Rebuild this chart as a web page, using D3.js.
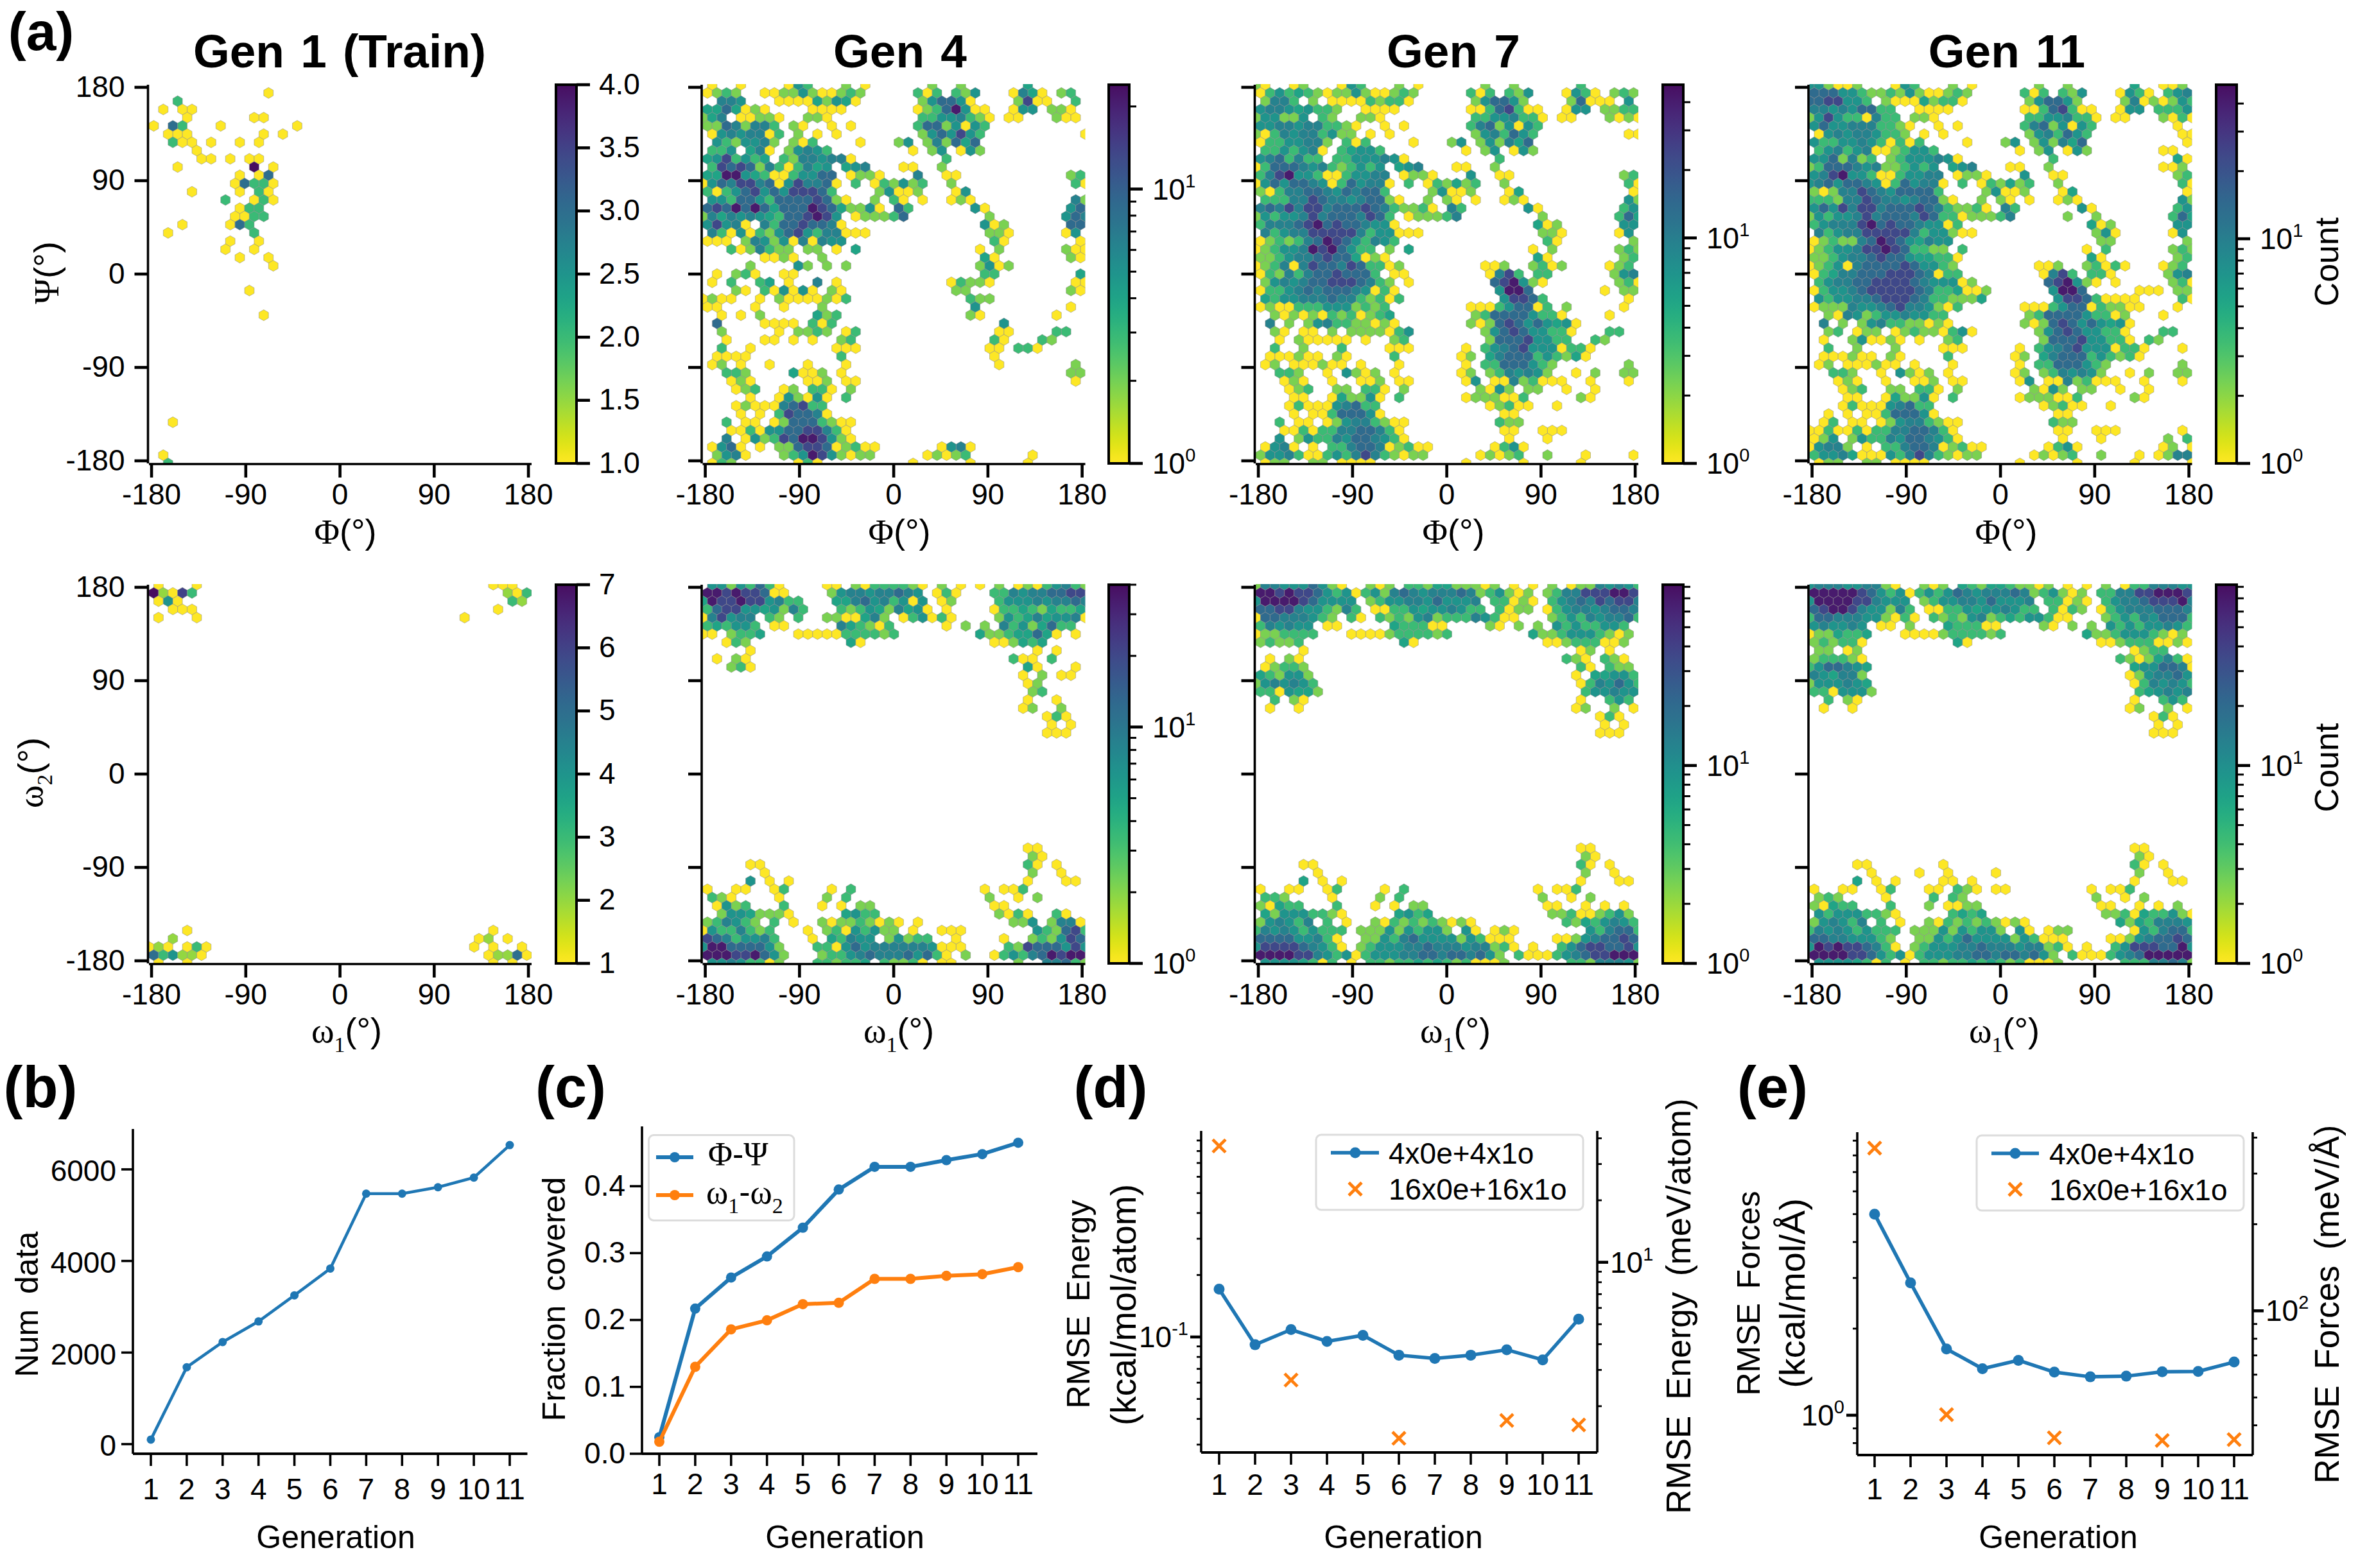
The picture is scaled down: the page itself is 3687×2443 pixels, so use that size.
<!DOCTYPE html>
<html><head><meta charset="utf-8">
<script src="https://cdn.jsdelivr.net/npm/d3@7"></script>
<style>
html,body{margin:0;padding:0;background:#fff}
svg{display:block}
text{font-family:"Liberation Sans",sans-serif;fill:#000}
.gk{font-family:"Liberation Serif",serif}
</style></head><body>
<svg id="chart" width="3687" height="2443"></svg>
<script>
// ---------- data: counts per hexagon, "column:levels" runs, one string per lattice row (top to bottom) ----------
const phiPsiGen1 = ["","12:1","3:2","1:1 3:11","4:1 11:11","0:1 2:32 7:1 15:1","2:111 12:1 14:1","2:211 6:1 9:1 11:1","5:1","5:11 8:1 10:11","3:1 11:4 13:1","9:1 11:13","9:13221","4:1 9:1 11:21","8:2 11:121","9:122","9:1122","3:1 8:132","2:1 11:2","8:1 11:1","8:1 11:1","9:1 12:1","13:1","","","10:1","","","12:1","","","","","","","","","","","","","2:1","","","","1:1","2:2"];
const phiPsiGen4 = [
"1:1 4:1 9:153 15:2 17:1 24:2 27:2 34:4",
"0:1232 6:11225211232 22:313 26:325 32:1641 37:23",
"2:665 8:111142541 23:257751 33:2811 39:3",
"0:4474121 11:1111 22:12379511 32:155 36:221",
"0:246.11221 11:221 23:33556321 32:11 37:211",
"0:22762663 9:21 13:1 15:1 22:37725153",
"1:15656613 10:2 12:1 14:1 23:2575853 40:1",
"1:5325562 9:213 16:1 20:25 23:262747",
"1:335.461 9:25653 22:1 24:25 27:152",
"0:4583534 8:32665661 25:3",
"1:3878726313645 15:456 21:11 25:2",
"0:44995431135577 15:1221 22:6 25:11 38:23",
"0:157688671586671 16:3 18:132523 26:2 39:31",
"0:31357857588873 18:25112 26:15",
"1:553775377778721 18:2 20:31 23:1 26:121 39:62",
"0:7879797477798742251.73 28:51 38:57",
"0:264656543778985.122237 30:2 38:576",
"0:58561.637787761 29:512 38:77",
"1:63151325785366111 30:221 38:15",
"0:111.26525161655 30:31 39:1",
"3:3126322.22.1.4 29:1 31:2 38:211",
"6:1121 12:2 29:41 38:21",
"5:2 10:52 13:2 15:2 29:2512",
"1:1 3:231 8:11 29:33 39:4",
"1:1 3:3 6:34 9:1 12:6 14:1 26:13221 39:11",
"3:21 6:315151.21 26:22 38:21",
"0:1211 6:1 8:21111213 28:322",
"0:11 5:1 8:1 12:2 28:5 38:1",
"2:1 4:1 6:2 12:423 28:21 37:1",
"1:7 6:1111 11:313 31:5",
"2:2 8:1 10:2232 15:13 31:11 37:33",
"2:1 6:11 9:1 11:1 14:23 30:31 35:32",
"2:3 5:1 14:111 30:11 33:331",
"1:1111 14:3 30:1",
"1:12.1 7:1 11:1 15:1 31:1 39:2",
"2:332 9:4112 14:1 38:22",
"3:121 11:112 15:11 39:1",
"3:123 8:12 11:331 15:2",
"5:1 8:152151 15:3",
"3:1211167833",
"4:1 6:1 8:387761",
"2:3 4:11 7:127773211",
"3:1131557788631",
"2:6 4:152387998521",
"1:1571 6:1 8:22788712311 25:1561",
"1:2561 8:2359852122 23:12123 34:1",
"1:132 10:131 22:1 28:1 34:1"];
const phiPsiGen7 = [
"0:21 4:12 9:153 15:2 17:1 24:2 27:2 34:3",
"0:13534321225211232 22:313 26:325 32:1531 37:232",
"1:2663.2.111132331 23:257752 33:27111 39:5",
"0:566545332..1111 22:11378311 32:155 36:2233",
"0:255225.32..221 23:33556331 32:11 37:2121",
"0:55665663321 13:1 15:1 22:36725153",
"0:21365663522.1.1 23:2563753 39:11",
"0:13355662.313 16:1 20:25 23:252647",
"1:3353561.34553 22:1 24:25 27:152",
"0:5673633.33555651 25:3",
"0:13777656323535.456 21:11 25:2",
"0:36895531135566 15:1221 22:5 25:11 38:23",
"0:157577651375661 16:3 18:132423 26:2 39:31",
"0:21366776576773 18:25112 26:14 39:1",
"1:333668766567721 18:2 20:21 23:1 26:121 39:52",
"0:6768688677787632231.63 28:51 38:35",
"0:253556867776873.122236 30:2 38:374",
"0:366678978776551 29:412 38:55",
"1:63566888886355111 30:221 38:15",
"0:123236798753653 30:31 39:2",
"0:1235569897533.2.4 29:1 31:2 38:232",
"0:22356678774121 29:41 38:23",
"0:1236168776873312 24:112 29:2312 37:123",
"0:1326367787773.11 24:1683 29:33 37:256",
"1:25656778887632 16:1 25:789521 38:231",
"0:133567677765131 25:5997 36:1 38:22",
"1:435566676632313 26:58873 39:1",
"0:12113335552323 22:111357713.2 38:1",
"2:2121213231234 23:2377775331 37:1",
"1:6.2 5:2563322121 22:212787575451",
"2:21 5:11.2.2222135 24:2578755331 37:33",
"2:1 4:211111 11:1 14:23 24:277785533 35:32",
"2:3 5:2 9:3 14:111 22:1 24:356785551331",
"1:111211.21 14:3 21:12 24:46777353241",
"1:12.111211 11:1 15:1 22:1 24:33777532 39:2",
"2:332 7:1 9:5212 14:1 21:12 24:2365652 33:1 35:2 38:22",
"3:121 8:1 11:112 15:11 22:15 25:11623111 35:1 39:1",
"3:123 8:22 11:331 15:2 23:2152.22 32:1 35:1",
"4:11 8:142251 15:3 22:1222113 34:21",
"3:1311156733 24:12311 31:1",
"4:1.11377751 26:11",
"2:3 4:11 7:125663211 25:322",
"3:1131336677631 26:11 30:111",
"2:5 4:253365776531 26:1 30:1",
"1:1561 6:1 8:33677612311 25:1351",
"0:255631135368632122 23:12123 30:2 34:1 39:1",
"1:122 6:22 9:1111 22:1 28:1 34:1"];
const phiPsiGen11 = [
"0:552112 9:153 15:2 17:1 24:2 27:2 34:4 37:112",
"0:77755322325211232 22:313 26:325 32:1531 37:356",
"0:7788553.211142331 23:257752 33:26121253",
"0:665657733..1111 22:11378311 32:155 36:3335",
"0:2585331633.221 23:33556331 32:11 37:2131",
"0:57556663321 13:1 15:1 22:36725153 38:1",
"1:1565665332.1.1 23:2563753 39:11",
"0:533556531313 16:1 20:25 23:252647 39:1",
"1:3563561123553 22:1 24:25 27:152 37:11",
"0:5572623.23555651 25:3 38:41",
"0:23777656223535.456 21:11 25:2 37:112",
"0:56895531135566 15:1221 22:5 25:11 38:23",
"0:567577651375661 16:3 18:132423 26:2 39:31",
"0:21266876577773 18:25112 26:14 39:1",
"0:3332668766567721 18:2 20:21 23:1 26:121 39:52",
"0:5758688677787632231.63 28:51 38:35",
"0:2535568677768733122236 27:2 30:2 38:374",
"0:3566689787765513 29:412 38:55",
"1:63566888886355211 30:251 38:15",
"0:123226798754655 30:22 39:2",
"0:123556889873322.3 29:1 31:3 38:232",
"0:2235667877544331 29:41 38:23",
"0:1235167777875532 24:112 29:23131 37:123",
"0:1346677788876133 24:1683 29:331 37:256",
"1:35667788887655512 25:789521 32:1 38:231",
"0:1355678888876334112 25:5997 34:111 38:22",
"1:535566788876332224 26:588731111 39:31",
"0:1222655678665213 22:1113577132211 38:1",
"2:2165235565533 23:23777753312 37:1",
"1:6.2 5:2563322121 22:212787575451",
"2:23 5:122.123221351 24:2578755331 37:33",
"1:1 4:251121 11:1 14:23 24:2777855331 35:32",
"2:3 5:2 9:2 14:111 22:1 24:356785551331 39:1",
"1:111211.21 14:3 21:12 24:46777353231",
"1:12.111211 11:1 15:1 22:1 24:33777532 39:2",
"2:332 7:1 9:5212 14:1 21:12 24:2365652 33:1 35:2 38:22",
"3:121 8:1 11:112 15:11 22:15 25:11623111 35:1 39:1",
"3:123 8:22 11:331 15:2 23:2152.22 32:1 35:1",
"4:11 8:142251 15:3 22:1222113 34:21",
"3:1311156733 24:12311 31:1",
"2:1 4:1.11377751 26:11",
"1:13.11 7:125663211 25:322",
"0:1131131336677631 26:11 30:111 39:1",
"0:125.253365776531 26:1 30:1 37:2 39:3",
"0:15662.1.33677612311 25:1351 37:12 40:1",
"0:355641115368632122 23:12123 30:2 34:1 36:1266",
"1:122 6:22 9:1111 22:1 28:1 34:1 40:1"];
const omegaGen1 = ["1:1 5:1 36:111","0:72163 37:213","1:141 38:32","2:111 36:1","1:1 5:1 33:1",
"","","","","","","","","","","","","","","","","","","","","","","","","","","","","","","","","","","","","",
"4:1 36:1","2:2 34:12 37:1","0:121 4:131 34:1 36:1 39:1","0:534221 35:12251","1:1 4:1 36:1 38:1"];
const omegaGen4 = [
"1:55253731 13:11 16:21333321 25:2 27:1 29:1 31:2 33:12135632",
"0:998988711 13:2566566765 24:131 30:3365667788",
"0:49889885633 14:4467563515 25:12 31:3555656676",
"0:37885545263 14:3235426451 25:1 30:1334324334",
"0:168566.32.3 13:2211462.135131 31:2534645561",
"0:343553 7:11 14:643213 25:1 27:2 29:2 31:63524733",
"0:11.2334 10:11111333323 29:422344741.1",
"2:132 15:41 30:112434",
"5:1 35:1 37:1",
"1:1 3:21 32:311 36:3",
"3:231 34:41 39:1",
"33:1 35:2 37:11",
"34:12","34:23","34:1 37:1","33:12 37:2","36:131","36:1 38:1","36:111",
"","","","","","","","","","","","","",
"34:11","34:21","5:11 34:31 37:1","6:1 34:2 37:1","5:5 7:1 9:1 34:1 38:11",
"0:1 3:11 7:13 13:1 15:3 29:1 31:113",
"1:321 8:1 13:2 15:3 30:2 33:1 35:2",
"1:1523 8:3 12:1 14:1 16:22 30:11",
"2:25542221 15:4533 31:2131 37:31",
"0:236532.3 9:1 12:212232121.1 32:225 36:2661",
"0:15336323 11:1 13:23153522 22:1 25:111 35:532783",
"0:87635563 11:1 13:43655.25233 26:1 31:1 34:232587",
"0:599777752 12:3315756666665111 32:328777585",
"0:999889752 12:23356766675731.2 30:1353679899",
"1:55653312 12:332334.32231 25:11 33:2 36:66732"];
const omegaGen7 = [
"0:2665557521 12:212 16:3324422212 27:1 29:1 31:2 33:12265653",
"0:99898875351352676566676235212.2366888998",
"0:59999875555.235566575556.33121.3567687886",
"0:77886553263.113354556533.3122.1356656776",
"0:177666532.31.323256233365311...2353656673",
"0:365655 7:11 14:433311 24:21.2 29:2 31:53533553",
"0:1223333 10:11112333323 29:42235553212",
"0:23223 15:41 30:112333112",
"5:1 34:12 37:1",
"1:1 3:21 32:321 36:321",
"1:12332 34:31 37:322",
"0:432552 33:1 35:44553",
"0:2565653 34:1365753",
"0:3315442 34:355655",
"2:3 4:21 34:1 37:353",
"1:1 4:1 33:12 37:2 39:1",
"36:131","36:1 38:1","36:111",
"","","","","","","","","","","","","",
"34:11","34:21","5:11 34:31 37:1","6:1 34:2 37:1","5:4 7:1 9:1 34:1 38:11",
"0:1 3:11 7:13 13:1 15:3 29:1 31:113",
"1:332 8:1 13:2 15:3 30:2 33:1 35:2",
"0:21433 8:3 12:1 14:1 16:22 30:11 34:1 36:1 38:1",
"1:425553321 15:4534 31:223112352",
"0:256536.3.1 12:21323232121 32:32435653",
"0:3656535333.2225253552.51.121 35:536773",
"0:777755631 11:2253675555253111 31:112567787",
"0:5888876531.23555667666566231.1 32:357887785",
"0:99998865351355566776776752.3111356788999",
"1:55554313 10:1 12:332334343231112 33:33266652"];
const omegaGen11 = [
"0:5666556621 12:212 16:4324432212 27:1 29:1 31:2 33:13366655",
"0:99999875351353576566676235212.3366889998",
"0:59999886555.235566575556.33121.3566788896",
"0:78998655263.113354556533.3132.1356667776",
"0:377666552131.323256234355311...2353657773",
"0:565565 7:11 10:2 14:433311 24:21.2 29:2 31:535355653",
"0:1224334 10:11112333323 29:42235553212",
"0:232331 15:41 30:1123331121",
"1:22.12 34:1233",
"0:233321 32:32124631",
"0:3577654 34:4557761",
"0:654662 33:1256675",
"0:2555654 34:1365653",
"0:3315552 34:345656",
"2:3 4:21 34:1 37:353",
"1:1 4:1 33:12 37:2 39:1",
"36:131","36:1 38:1","36:111",
"","","","","","","","","","","","","",
"34:11","34:21","5:11 14:1 34:31 37:1","6:1 11:1 14:1 19:1 34:2 37:1","5:4 7:1 9:1 14:11 17:1 34:1 38:11",
"0:1 3:11 7:13 12:11 15:321 19:11 29:1 31:113",
"1:232 8:1 13:3 15:32 30:2 33:1 35:2",
"0:21433 8:3 12:2 14:1122 30:11 34:1 36:1 38:2",
"1:535553321 15:3434 31:2231433521",
"0:256536.3.1 12:21323232121 32:42436665",
"0:3656535333.2225253552.51.122 34:1536773",
"0:776655532 11:2253575555253111 31:112567787",
"0:5989887631.23555667666566231.1 32:358887795",
"0:99998875351355566776776752.3111356799999",
"1:55554313 10:1 12:332334343231112 33:33366762"];

// level codes of the log-colour panels, as fractions of the log colour range
const levelFraction = [0,.21,.33,.43,.5,.58,.68,.81,.96];
const topVmax = [4,24,47.8,48.5];
const bottomVmax = [7,40,82,82];
const panelTitles = ["Gen 1 (Train)","Gen 4","Gen 7","Gen 11"];
const angleTicks = [-180,-90,0,90,180];
const generations = [1,2,3,4,5,6,7,8,9,10,11];
const numData = [100,1680,2230,2680,3250,3835,5470,5470,5610,5820,6530];
const coverPhiPsi = [.0247,.217,.2635,.295,.338,.395,.429,.429,.439,.448,.465];
const coverOmega = [.018,.130,.186,.1995,.2237,.2257,.2615,.2615,.266,.2685,.279];
const energySmall = [.1708,.0917,.1086,.0952,.1019,.0816,.0786,.0816,.0867,.0774,.1221];
const energyLargeGen = [1,3,6,9,11];
const energyLarge = [.847,.0618,.0322,.0393,.0374];
const forceSmall = [5.0,2.886,1.70,1.451,1.552,1.412,1.360,1.367,1.416,1.42,1.531];
const forceLargeGen = [1,3,6,9,11];
const forceLarge = [8.48,1.005,.835,.817,.823];
const kcalToMeV = 43.364;

const blue="#1f77b4", orange="#ff7f0e";
const svg=d3.select("#chart");
const TICK=46, LAB=50;
const cmap=t=>d3.interpolateViridis(1-0.965*Math.max(0,Math.min(1,t)));

function styleAxis(g,spineW,tickW){
  g.select(".domain").attr("stroke","#000").attr("stroke-width",spineW).attr("fill","none");
  g.selectAll(".tick line").attr("stroke","#000").attr("stroke-width",tickW);
  g.selectAll(".tick text").attr("font-size",TICK).attr("font-family",'"Liberation Sans",sans-serif').attr("fill","#000");
  g.attr("font-family",null).attr("font-size",null);
}
function parseRow(s){
  const out=[];
  if(!s) return out;
  s.split(" ").forEach(run=>{
    const [st,ds]=run.split(":");
    [...ds].forEach((c,i)=>{ if(c!==".") out.push({col:+st+i,level:+c}); });
  });
  return out;
}
let clipId=0;
function hexPanel(rows,L,T,vmax,isLinear,showY){
  const W=596,H=590;
  const x=d3.scaleLinear().domain([-182.5,183]).range([L,L+W]);
  const y=d3.scaleLinear().domain([182.5,-182.5]).range([T,T+H]);
  const colStep=365.5/40,rowStep=365/46;
  const sx=x(colStep)-x(0), sy=2*(y(0)-y(rowStep));
  const p=d3.path();
  [[.5,-1/6],[.5,1/6],[0,1/3],[-.5,1/6],[-.5,-1/6],[0,-1/3]].forEach((v,i)=>{
    const a=v[0]*sx,b=v[1]*sy; if(i===0)p.moveTo(a,b); else p.lineTo(a,b);
  });
  p.closePath();
  const color=isLinear
    ? d3.scaleSequential(cmap).domain([1,vmax])
    : d3.scaleSequentialLog(cmap).domain([1,vmax]);
  const count=l=>isLinear?l:Math.pow(vmax,levelFraction[l-1]);
  const id="clip"+(clipId++);
  svg.append("clipPath").attr("id",id).append("rect").attr("x",L).attr("y",T-1).attr("width",W).attr("height",H+1);
  const cells=[];
  rows.forEach((r,ri)=>parseRow(r).forEach(c=>{
    cells.push({px:-182.5+colStep*(c.col+(ri%2?.5:0)),py:182.5-rowStep*ri,n:count(c.level)});
  }));
  svg.append("g").attr("clip-path",`url(#${id})`).selectAll("path").data(cells).join("path")
    .attr("d",p.toString()).attr("transform",d=>`translate(${x(d.px)},${y(d.py)})`)
    .attr("fill",d=>color(d.n)).attr("stroke","#8a8a8a").attr("stroke-width",.7).attr("stroke-opacity",.75);
  const ax=svg.append("g").attr("transform",`translate(0,${T+H+1})`)
    .call(d3.axisBottom(x).tickValues(angleTicks).tickSize(21).tickSizeOuter(0).tickPadding(9).tickFormat(String).offset(0));
  styleAxis(ax,3.6,4.6);
  const ay=svg.append("g").attr("transform",`translate(${L-1.5},0)`)
    .call(d3.axisLeft(y).tickValues(angleTicks).tickSize(21).tickSizeOuter(0).tickPadding(15).tickFormat(showY?String:"").offset(0));
  styleAxis(ay,3.6,4.6);
}
function colorbar(L,W,T,H,vmax,isLinear,ticks,minor){
  const id="grad"+(clipId++);
  const gr=svg.append("defs").append("linearGradient").attr("id",id).attr("x1",0).attr("x2",0).attr("y1",1).attr("y2",0);
  d3.range(0,1.0001,.02).forEach(t=>gr.append("stop").attr("offset",t).attr("stop-color",cmap(t)));
  svg.append("rect").attr("x",L).attr("y",T).attr("width",W).attr("height",H).attr("fill",`url(#${id})`).attr("stroke","#000").attr("stroke-width",4);
  const s=(isLinear?d3.scaleLinear():d3.scaleLog()).domain([1,vmax]).range([T+H,T]);
  const g=svg.append("g").attr("transform",`translate(${L+W},0)`);
  if(minor){
    const m=g.append("g").call(d3.axisRight(s).tickValues(minor).tickSize(11).tickFormat("").offset(0));
    m.select(".domain").remove();
    m.selectAll(".tick line").attr("stroke","#000").attr("stroke-width",3);
  }
  const a=g.append("g").call(d3.axisRight(s).tickValues(ticks).tickSize(21).tickPadding(14)
    .tickFormat(isLinear?(vmax===4?d3.format(".1f"):d3.format("d")):()=>"" ).offset(0));
  a.select(".domain").remove();
  a.selectAll(".tick line").attr("stroke","#000").attr("stroke-width",4.6);
  a.selectAll(".tick text").attr("font-size",TICK).attr("font-family",'"Liberation Sans",sans-serif').attr("fill","#000");
  a.attr("font-family",null).attr("font-size",null);
  if(!isLinear){
    a.selectAll(".tick").each(function(d){
      pow(d3.select(this),36,5,Math.round(Math.log10(d)),"start");
    });
  }
}
function pow(g,x,y,e,anchor){
  g.select("text").remove();
  const t=g.append("text").attr("x",x).attr("y",y+11).attr("text-anchor",anchor).attr("font-size",TICK);
  t.append("tspan").text("10");
  t.append("tspan").attr("font-size",29).attr("dy",-19).text(e);
  return t;
}
function rich(sel,parts){ // parts: [text, kind] kind: undefined, 'gk', 'sub'
  let prevSub=false;
  parts.forEach(([s,k])=>{
    const t=sel.append("tspan").text(s);
    if(k==="gk") t.attr("class","gk");
    if(k==="sub"){ t.attr("class","gk").attr("font-size",34).attr("dy",15); prevSub=true; }
    else if(prevSub){ t.attr("dy",-15); prevSub=false; }
  });
  return sel;
}
function label(x,y,parts,opt={}){
  const t=svg.append("text").attr("font-size",opt.size||LAB).attr("text-anchor",opt.anchor||"middle")
    .attr("font-weight",opt.weight||null).attr("word-spacing",opt.ws||null)
    .attr("transform",`translate(${x},${y})`+(opt.rot?` rotate(${opt.rot})`:""));
  if(typeof parts==="string") t.text(parts); else rich(t,parts);
  return t;
}

// ---------- panel (a) ----------
const lefts=[232,1094.5,1956,2818.5];
const cbL=[866,1727,2590,3452];
const topRows=[phiPsiGen1,phiPsiGen4,phiPsiGen7,phiPsiGen11];
const botRows=[omegaGen1,omegaGen4,omegaGen7,omegaGen11];
const titleX=[529,1402,2264,3126];
const topLabX=[538,1401,2264,3125];
const botLabX=[540,1400,2267,3122];
function logMinor(vmax){
  const a=[];
  [1,10].forEach(d=>[2,3,4,5,6,7,8,9].forEach(k=>{ if(k*d<=vmax) a.push(k*d); }));
  return a;
}
lefts.forEach((L,i)=>{
  hexPanel(topRows[i],L,132,topVmax[i],i===0,i===0);
  hexPanel(botRows[i],L,911,bottomVmax[i],i===0,i===0);
  if(i===0){
    colorbar(cbL[i],32,132,590,topVmax[i],true,[1,1.5,2,2.5,3,3.5,4]);
    colorbar(cbL[i],32,911,590,bottomVmax[i],true,[1,2,3,4,5,6,7]);
  } else {
    colorbar(cbL[i],32,132,590,topVmax[i],false,[1,10],logMinor(topVmax[i]));
    colorbar(cbL[i],32,911,590,bottomVmax[i],false,[1,10],logMinor(bottomVmax[i]));
  }
  label(titleX[i],105,panelTitles[i],{size:73,weight:"bold",ws:5});
  label(topLabX[i],847,[["\u03A6","gk"],["(\u00B0)"]],{size:54});
  label(botLabX[i],1624,[["\u03C9","gk"],["1","sub"],["(\u00B0)"]],{size:54});
});
label(91,425,[["\u03A8","gk"],["(\u00B0)"]],{rot:-90,size:54});
label(66,1204,[["\u03C9","gk"],["2","sub"],["(\u00B0)"]],{rot:-90,size:54});
label(3642,408,"Count",{rot:-90,size:52});
label(3642,1196,"Count",{rot:-90,size:52});

// panel letters
label(64,78,"(a)",{size:84,weight:"bold"});
[["(b)",63,1725],["(c)",889,1725],["(d)",1730,1725],["(e)",2761,1725]].forEach(d=>{
  label(d[1],d[2],d[0],{size:90,weight:"bold"});
});

// ---------- helpers for (b)-(e) ----------
function genAxis(x1,x11,left,right,bottom,pad){
  const x=d3.scaleLinear().domain([1,11]).range([x1,x11]);
  const g=svg.append("g").attr("transform",`translate(0,${bottom})`)
    .call(d3.axisBottom(x).tickValues(generations).tickSize(19).tickSizeOuter(0).tickPadding(pad).tickFormat(String).offset(0));
  g.select(".domain").remove();
  styleAxis(g,3.5,3.6);
  svg.append("line").attr("x1",left).attr("x2",right).attr("y1",bottom).attr("y2",bottom).attr("stroke","#000").attr("stroke-width",4);
  return x;
}
function drawLine(x,y,gens,vals,col,w,r){
  const pts=gens.map((g,i)=>[g,vals[i]]);
  svg.append("path").datum(pts).attr("fill","none").attr("stroke",col).attr("stroke-width",w)
    .attr("d",d3.line().x(d=>x(d[0])).y(d=>y(d[1])));
  svg.append("g").selectAll("circle").data(pts).join("circle").attr("cx",d=>x(d[0])).attr("cy",d=>y(d[1])).attr("r",r).attr("fill",col);
}
function drawCross(x,y,gens,vals,col){
  const c=d3.symbol().type(d3.symbolTimes).size(262);
  svg.append("g").selectAll("path").data(gens.map((g,i)=>[g,vals[i]])).join("path")
    .attr("d",c).attr("transform",d=>`translate(${x(d[0])},${y(d[1])})`)
    .attr("fill","none").attr("stroke",col).attr("stroke-width",4.8);
}
function legendBox(x,y,w,h){
  svg.append("rect").attr("x",x).attr("y",y).attr("width",w).attr("height",h).attr("rx",8)
    .attr("fill","#fff").attr("stroke","#dcdcdc").attr("stroke-width",3);
}
function logAxes(left,right,top,bottom,dom,majL,minL,majR,minR){
  const y=d3.scaleLog().domain(dom).range([bottom,top]);
  const yr=d3.scaleLog().domain(dom.map(v=>v*kcalToMeV)).range([bottom,top]);
  const gl=svg.append("g").attr("transform",`translate(${left},0)`);
  const m=gl.append("g").call(d3.axisLeft(y).tickValues(minL).tickSize(7).tickFormat("").tickSizeOuter(0).offset(0));
  styleAxis(m,3.6,2.8);
  const a=gl.append("g").call(d3.axisLeft(y).tickValues([majL]).tickSize(17).tickFormat("").offset(0));
  a.select(".domain").remove(); a.selectAll(".tick line").attr("stroke","#000").attr("stroke-width",4.6);
  a.selectAll(".tick").each(function(d){ pow(d3.select(this),-20,5,Math.round(Math.log10(d)),"end"); });
  const gr=svg.append("g").attr("transform",`translate(${right},0)`);
  const m2=gr.append("g").call(d3.axisRight(yr).tickValues(minR).tickSize(7).tickFormat("").tickSizeOuter(0).offset(0));
  styleAxis(m2,3.6,2.8);
  const a2=gr.append("g").call(d3.axisRight(yr).tickValues([majR]).tickSize(17).tickFormat("").offset(0));
  a2.select(".domain").remove(); a2.selectAll(".tick line").attr("stroke","#000").attr("stroke-width",4.6);
  a2.selectAll(".tick").each(function(d){ pow(d3.select(this),20,5,Math.round(Math.log10(d)),"start"); });
  return y;
}

// ---------- (b) ----------
{
  const x=genAxis(235,794,207,821.5,2265,19);
  const y=d3.scaleLinear().domain([-210,6882]).range([2265,1759]);
  const ay=svg.append("g").attr("transform","translate(207,0)")
    .call(d3.axisLeft(y).tickValues([0,2000,4000,6000]).tickSize(18).tickSizeOuter(0).tickPadding(8).tickFormat(String).offset(0));
  styleAxis(ay,3.6,3.6);
  ay.selectAll(".tick text").attr("dy","0.4em");
  drawLine(x,y,generations,numData,blue,4.6,6.5);
  label(523,2412,"Generation");
  label(59,2032,"Num data",{rot:-90,size:50,ws:10});
}
// ---------- (c) ----------
{
  const x=genAxis(1027,1586,1000,1616,2265,11);
  const y=d3.scaleLinear().domain([0,.4894]).range([2265,1755]);
  const ay=svg.append("g").attr("transform","translate(1000,0)")
    .call(d3.axisLeft(y).tickValues([0,.1,.2,.3,.4]).tickSize(19).tickSizeOuter(0).tickPadding(7).tickFormat(d3.format(".1f")).offset(0));
  styleAxis(ay,3.6,3.6);
  drawLine(x,y,generations,coverPhiPsi,blue,6,8);
  drawLine(x,y,generations,coverOmega,orange,6,8);
  legendBox(1010.5,1768.5,226.5,133);
  [[1803,blue],[1862,orange]].forEach(([ly,c])=>{
    svg.append("line").attr("x1",1022).attr("x2",1080).attr("y1",ly).attr("y2",ly).attr("stroke",c).attr("stroke-width",6);
    svg.append("circle").attr("cx",1051).attr("cy",ly).attr("r",8).attr("fill",c);
  });
  label(1103,1816,[["\u03A6","gk"],["-"],["\u03A8","gk"]],{anchor:"start",size:52});
  label(1100,1875,[["\u03C9","gk"],["1","sub"],["-"],["\u03C9","gk"],["2","sub"]],{anchor:"start",size:52});
  label(1316,2412,"Generation");
  label(880,2024,"Fraction covered",{rot:-90,size:50,ws:8});
}
// ---------- (d) ----------
{
  const x=genAxis(1899,2459,1871,2488,2263,14);
  const y=logAxes(1871,2488,1762,2263,[.02748,1.002],.1,
    [.03,.04,.05,.06,.07,.08,.09,.2,.3,.4,.5,.6,.7,.8,.9],10,[2,3,4,5,6,7,8,9,20,30,40]);
  drawLine(x,y,generations,energySmall,blue,5.5,8.5);
  drawCross(x,y,energyLargeGen,energyLarge,orange);
  legendBox(2050,1768,416,117);
  svg.append("line").attr("x1",2073).attr("x2",2148).attr("y1",1796).attr("y2",1796).attr("stroke",blue).attr("stroke-width",5.5);
  svg.append("circle").attr("cx",2111).attr("cy",1796).attr("r",8.5).attr("fill",blue);
  drawCross(()=>2111,()=>1852.5,[0],[0],orange);
  label(2163,1813,"4x0e+4x1o",{anchor:"start",size:46});
  label(2163,1869,"16x0e+16x1o",{anchor:"start",size:46});
  label(2186,2412,"Generation");
  label(1697,2032,"RMSE Energy",{rot:-90,size:50,ws:8});
  label(1769,2033,"(kcal/mol/atom)",{rot:-90,size:55});
  label(2633,2035,"RMSE Energy (meV/atom)",{rot:-90,size:53,ws:10});
}
// ---------- (e) ----------
{
  const x=genAxis(2920,3480,2893,3509,2267,17);
  const y=logAxes(2893,3509,1764,2267,[.7272,9.632],1,
    [.8,.9,2,3,4,5,6,7,8,9],100,[40,50,60,70,80,90,200,300,400]);
  drawLine(x,y,generations,forceSmall,blue,5.5,8.5);
  drawCross(x,y,forceLargeGen,forceLarge,orange);
  legendBox(3079,1769,416,117);
  svg.append("line").attr("x1",3102).attr("x2",3176).attr("y1",1797).attr("y2",1797).attr("stroke",blue).attr("stroke-width",5.5);
  svg.append("circle").attr("cx",3139).attr("cy",1797).attr("r",8.5).attr("fill",blue);
  drawCross(()=>3139,()=>1853,[0],[0],orange);
  label(3192,1814,"4x0e+4x1o",{anchor:"start",size:46});
  label(3192,1870,"16x0e+16x1o",{anchor:"start",size:46});
  label(3206,2412,"Generation");
  label(2741,2015,"RMSE Forces",{rot:-90,size:50,ws:8});
  label(2811,2015,"(kcal/mol/\u00C5)",{rot:-90,size:56});
  label(3643,2032,"RMSE Forces (meV/\u00C5)",{rot:-90,size:53,ws:10});
}
</script>
</body></html>
